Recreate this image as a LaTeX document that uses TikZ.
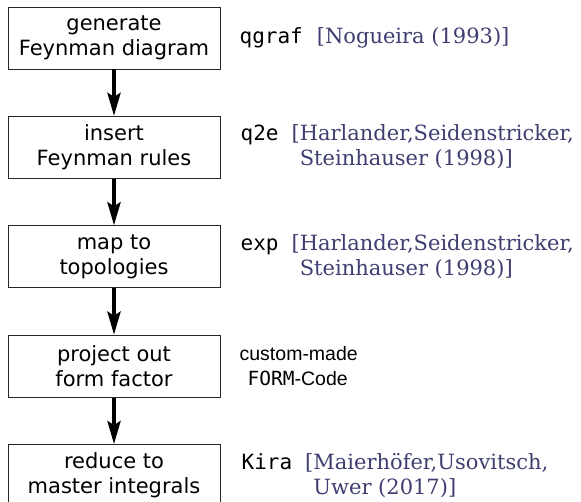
\documentclass[tikz,border=0pt]{standalone}
\usepackage{fontspec}
\setmainfont{DejaVu Sans}
\setmonofont{DejaVu Sans Mono}
\newfontfamily\citefont{DejaVu Serif}
\newfontfamily\notefont{Liberation Sans}
\usetikzlibrary{positioning,arrows.meta}
\definecolor{citeblue}{RGB}{62,62,112}
\newcommand{\refcite}[1]{{\citefont\color{citeblue}#1}}
\newcommand{\toolref}[3]{\texttt{#1}\hspace{13pt}\refcite{[#2}\\\phantom{\texttt{#1}\hspace{13pt}}\refcite{\phantom{[}#3]}}
\tikzset{
  stage/.style={draw=black!85,line width=0.9pt,minimum width=212pt,minimum height=62pt,inner sep=0pt,align=center,font=\fontsize{21}{25}\selectfont},
  tool/.style={inner sep=0pt,align=left,font=\fontsize{21}{25}\selectfont},
  flow/.style={->,line width=4pt},
}

\begin{document}
\begin{tikzpicture}[x=1pt,y=1pt,>={Stealth[length=23pt,width=13pt,inset=4pt]},node distance=46.5pt]
\useasboundingbox (0,0) rectangle (581,-502);
\node[stage] (gen) at (114,-38) {generate\\Feynman diagram};
\node[stage] (ins) [below=of gen] {insert\\Feynman rules};
\node[stage] (map) [below=of ins] {map to\\topologies};
\node[stage] (proj) [below=of map] {project out\\form factor};
\node[stage] (red) [below=of proj] {reduce to\\master integrals};
\draw[flow] (gen) -- (ins); \draw[flow] (ins) -- (map);
\draw[flow] (map) -- (proj); \draw[flow] (proj) -- (red);
% tools and references
\node[tool] (qgraf) [right=19pt of gen] {\texttt{qgraf}\hspace{14pt}\refcite{[Nogueira (1993)]}};
\node[tool] (q2e) [right=20pt of ins] {\toolref{q2e}{Harlander,Seidenstricker,}{Steinhauser (1998)}};
\node[tool] (exp) [right=20pt of map] {\toolref{exp}{Harlander,Seidenstricker,}{Steinhauser (1998)}};
\node[tool,font=\notefont\fontsize{19.5}{25}\selectfont] (form) [right=19pt of proj] {custom-made\\\hspace{8pt}\texttt{FORM}-Code};
\node[tool] (kira) [right=21pt of red] {\toolref{Kira}{Maierhöfer,Usovitsch,}{Uwer (2017)}};
\end{tikzpicture}
\end{document}
